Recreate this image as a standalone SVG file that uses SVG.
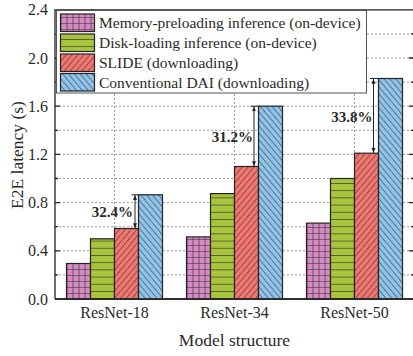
<svg xmlns="http://www.w3.org/2000/svg" width="413" height="356" viewBox="0 0 413 356">
<style>
text{font-family:"Liberation Serif","Times New Roman",serif;fill:#2a2a2a}
.tick{font-size:16px;text-anchor:end}
.cat{font-size:16px;text-anchor:middle}
.title{font-size:17.5px;text-anchor:middle}
.leg{font-size:15.5px}
.pct{font-size:15px;font-weight:bold;text-anchor:end}
.grid{stroke:#9a9a9a;stroke-width:1;stroke-dasharray:2,2;fill:none}
.bar{stroke:#222;stroke-width:1.2}
.axis{stroke:#222;stroke-width:1.3;fill:none}
.arr{stroke:#222;stroke-width:1;fill:none}
</style>
<defs>
<pattern id="pPink" patternUnits="userSpaceOnUse" x="66.5" y="5" width="6" height="6">
<rect width="6" height="6" fill="#d68ac4"/>
<path d="M0 0H6M0 0V6" stroke="#2a2a2a" stroke-width="1.2"/>
</pattern>
<pattern id="pGreen" patternUnits="userSpaceOnUse" x="0" y="3" width="10" height="7.2">
<rect width="10" height="7.2" fill="#a8c43c"/>
<path d="M0 0H10" stroke="#2a2a2a" stroke-width="1.2"/>
</pattern>
<pattern id="pRed" patternUnits="userSpaceOnUse" width="4.5" height="10" patternTransform="rotate(40)">
<rect width="4.5" height="10" fill="#f27570"/>
<path d="M0 0V10" stroke="#2a2a2a" stroke-width="1"/>
</pattern>
<pattern id="pBlue" patternUnits="userSpaceOnUse" width="4.5" height="10" patternTransform="rotate(-40)">
<rect width="4.5" height="10" fill="#90c3ea"/>
<path d="M0 0V10" stroke="#2a2a2a" stroke-width="1"/>
</pattern>
<marker id="ah" viewBox="0 0 10 10" refX="10" refY="5" markerWidth="5" markerHeight="5" orient="auto-start-reverse" markerUnits="userSpaceOnUse">
<path d="M0 1L10 5L0 9Z" fill="#222"/>
</marker>
</defs>
<rect width="413" height="356" fill="#fff"/>
<g id="grid">
<path class="grid" d="M55 274.9H414M55 250.8H414M55 226.7H414M55 202.6H414M55 178.5H414M55 154.4H414M55 130.3H414M55 106.2H414M55 82.1H414M55 58H414M55 33.9H414"/>
<path class="grid" d="M114.5 10V299M234.5 10V299M354.5 10V299"/>
</g>
<g id="axes">
<path class="axis" d="M55 299V9.8H414M55 299H414"/>
<path class="axis" d="M55 274.9h3M55 250.8h5M55 226.7h3M55 202.6h5M55 178.5h3M55 154.4h5M55 130.3h3M55 106.2h5M55 82.1h3M55 58h5M55 33.9h3"/>
<path class="axis" d="M414 274.9h-3M414 250.8h-5M414 226.7h-3M414 202.6h-5M414 178.5h-3M414 154.4h-5M414 130.3h-3M414 106.2h-5M414 82.1h-3M414 58h-5M414 33.9h-3"/>
<text class="tick" x="48" y="304.5">0.0</text>
<text class="tick" x="48" y="256.3">0.4</text>
<text class="tick" x="48" y="208.1">0.8</text>
<text class="tick" x="48" y="159.9">1.2</text>
<text class="tick" x="48" y="111.7">1.6</text>
<text class="tick" x="48" y="63.5">2.0</text>
<text class="tick" x="48" y="15.3">2.4</text>
<text class="cat" x="114.5" y="318">ResNet-18</text>
<text class="cat" x="234.5" y="318">ResNet-34</text>
<text class="cat" x="354.5" y="318">ResNet-50</text>
<text class="title" x="234.5" y="346">Model structure</text>
<text class="title" transform="translate(23.3 155) rotate(-90)">E2E latency (s)</text>
</g>
<g id="resnet18">
<rect class="bar" x="66.5" y="263.5" width="24" height="35.5" fill="url(#pPink)"/>
<rect class="bar" x="90.5" y="238.8" width="24" height="60.2" fill="url(#pGreen)"/>
<rect class="bar" x="114.5" y="228.5" width="24" height="70.5" fill="url(#pRed)"/>
<rect class="bar" x="138.5" y="194.8" width="24" height="104.2" fill="url(#pBlue)"/>
</g>
<g id="resnet34">
<rect class="bar" x="186.5" y="236.9" width="24" height="62.1" fill="url(#pPink)"/>
<rect class="bar" x="210.5" y="193.6" width="24" height="105.4" fill="url(#pGreen)"/>
<rect class="bar" x="234.5" y="166.5" width="24" height="132.5" fill="url(#pRed)"/>
<rect class="bar" x="258.5" y="106.2" width="24" height="192.8" fill="url(#pBlue)"/>
</g>
<g id="resnet50">
<rect class="bar" x="306.5" y="223.1" width="24" height="75.9" fill="url(#pPink)"/>
<rect class="bar" x="330.5" y="178.5" width="24" height="120.5" fill="url(#pGreen)"/>
<rect class="bar" x="354.5" y="153.2" width="24" height="145.8" fill="url(#pRed)"/>
<rect class="bar" x="378.5" y="78.5" width="24" height="220.5" fill="url(#pBlue)"/>
</g>
<path class="axis" d="M55 299H414"/>
<g id="connectors">
<path class="arr" d="M131.5 194.8H138.5"/>
<path class="arr" d="M135 195V228.3" marker-start="url(#ah)" marker-end="url(#ah)"/>
<path class="arr" d="M250.5 106.2H258.5"/>
<path class="arr" d="M254 106.4V166.3" marker-start="url(#ah)" marker-end="url(#ah)"/>
<path class="arr" d="M370 78.5H378.5"/>
<path class="arr" d="M373.5 78.7V153" marker-start="url(#ah)" marker-end="url(#ah)"/>
</g>
<g id="labels">
<text class="pct" x="133" y="217">32.4%</text>
<text class="pct" x="253" y="142">31.2%</text>
<text class="pct" x="372.5" y="122">33.8%</text>
</g>
<g id="legend">
<rect x="56.5" y="10.5" width="310" height="82.5" fill="#fff" stroke="#555" stroke-width="1"/>
<rect class="bar" x="60.5" y="14" width="34" height="17.5" fill="url(#pPink)"/>
<rect class="bar" x="60.5" y="34" width="34" height="17.5" fill="url(#pGreen)"/>
<rect class="bar" x="60.5" y="54" width="34" height="17.5" fill="url(#pRed)"/>
<rect class="bar" x="60.5" y="73.5" width="34" height="17.5" fill="url(#pBlue)"/>
<text class="leg" x="99" y="28">Memory-preloading inference (on-device)</text>
<text class="leg" x="99" y="48">Disk-loading inference (on-device)</text>
<text class="leg" x="99" y="68">SLIDE (downloading)</text>
<text class="leg" x="99" y="87.5">Conventional DAI (downloading)</text>
</g>
</svg>
